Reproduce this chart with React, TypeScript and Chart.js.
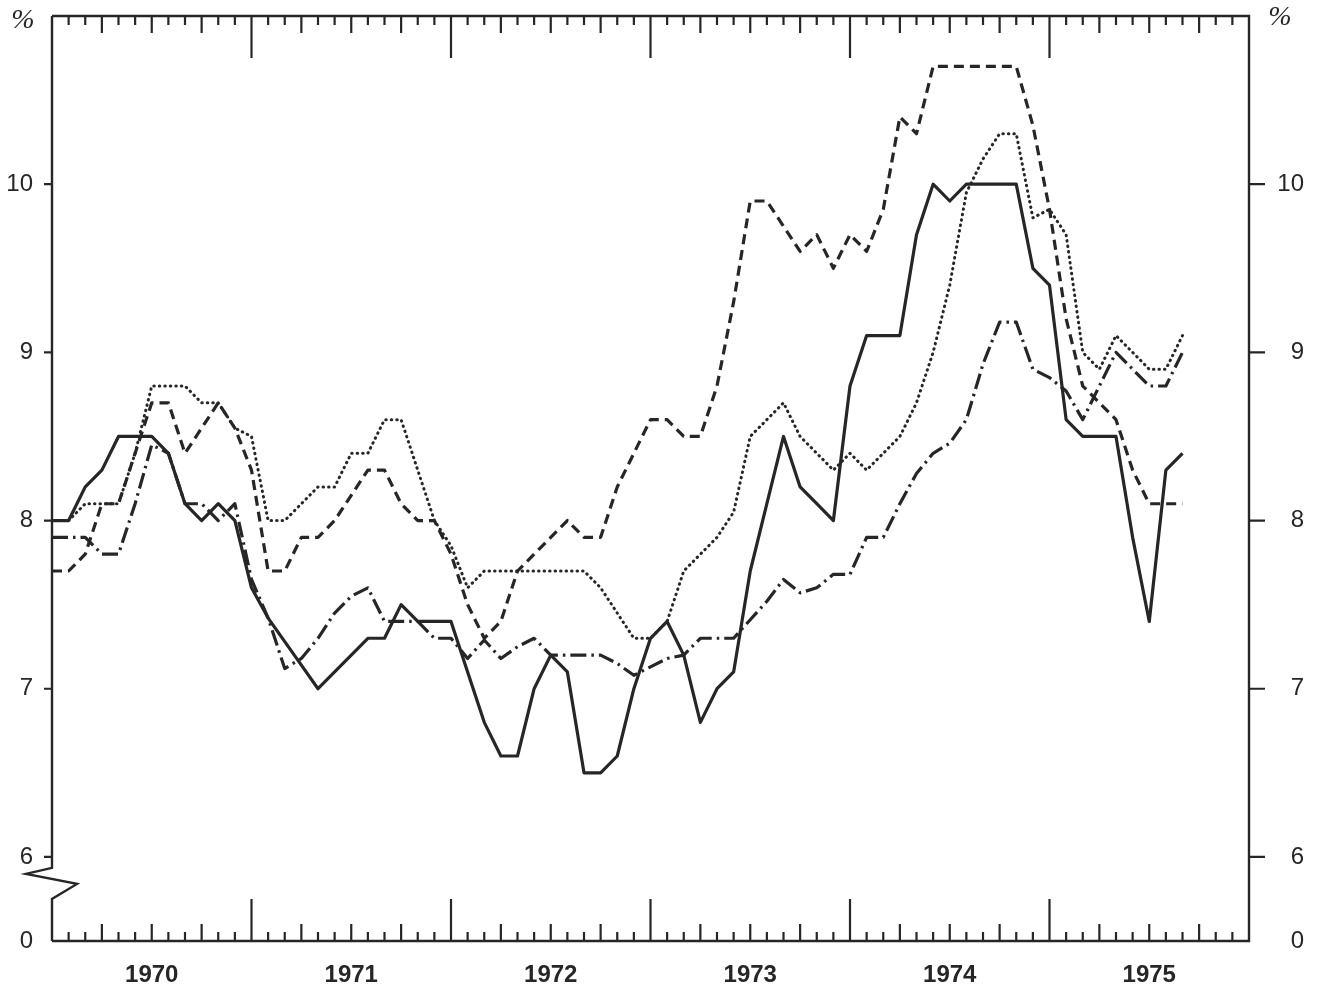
import React, { useEffect, useRef } from "react";
import { Chart, registerables } from "chart.js";

Chart.register(...registerables);

// Month index 0 = January 1970, one value per month (Jan 1970 – Sep 1975)
const solidSeries = [
  8.0, 8.0, 8.2, 8.3, 8.5, 8.5, 8.5, 8.4, 8.1, 8.0, 8.1, 8.0,
  7.6, 7.42, 7.28, 7.14, 7.0, 7.1, 7.2, 7.3, 7.3, 7.5, 7.4, 7.4,
  7.4, 7.1, 6.8, 6.6, 6.6, 7.0, 7.2, 7.1, 6.5, 6.5, 6.6, 7.0,
  7.3, 7.4, 7.2, 6.8, 7.0, 7.1, 7.7, 8.1, 8.5, 8.2, 8.1, 8.0,
  8.8, 9.1, 9.1, 9.1, 9.7, 10.0, 9.9, 10.0, 10.0, 10.0, 10.0, 9.5,
  9.4, 8.6, 8.5, 8.5, 8.5, 7.9, 7.4, 8.3, 8.4,
];

const dashedSeries = [
  7.7, 7.7, 7.8, 8.1, 8.1, 8.4, 8.7, 8.7, 8.4, 8.55, 8.7, 8.55,
  8.3, 7.7, 7.7, 7.9, 7.9, 8.0, 8.15, 8.3, 8.3, 8.1, 8.0, 8.0,
  7.8, 7.5, 7.3, 7.4, 7.7, 7.8, 7.9, 8.0, 7.9, 7.9, 8.2, 8.4,
  8.6, 8.6, 8.5, 8.5, 8.8, 9.3, 9.9, 9.9, 9.75, 9.6, 9.7, 9.5,
  9.7, 9.6, 9.85, 10.4, 10.3, 10.7, 10.7, 10.7, 10.7, 10.7, 10.7, 10.35,
  9.85, 9.2, 8.8, 8.7, 8.6, 8.3, 8.1, 8.1, 8.1,
];

const dottedSeries = [
  8.0, 8.0, 8.1, 8.1, 8.1, 8.4, 8.8, 8.8, 8.8, 8.7, 8.7, 8.55,
  8.5, 8.0, 8.0, 8.1, 8.2, 8.2, 8.4, 8.4, 8.6, 8.6, 8.3, 8.0,
  7.85, 7.6, 7.7, 7.7, 7.7, 7.7, 7.7, 7.7, 7.7, 7.6, 7.45, 7.3,
  7.3, 7.4, 7.7, 7.8, 7.9, 8.05, 8.5, 8.6, 8.7, 8.5, 8.4, 8.3,
  8.4, 8.3, 8.4, 8.5, 8.7, 9.0, 9.4, 9.95, 10.15, 10.3, 10.3, 9.8,
  9.85, 9.7, 9.0, 8.9, 9.1, 9.0, 8.9, 8.9, 9.1,
];

const dashDotSeries = [
  7.9, 7.9, 7.9, 7.8, 7.8, 8.1, 8.45, 8.4, 8.1, 8.1, 8.0, 8.1,
  7.65, 7.42, 7.12, 7.18, 7.3, 7.45, 7.55, 7.6, 7.4, 7.4, 7.4, 7.3,
  7.3, 7.18, 7.29, 7.18, 7.25, 7.3, 7.2, 7.2, 7.2, 7.2, 7.15, 7.08,
  7.13, 7.18, 7.2, 7.3, 7.3, 7.3, 7.41, 7.52, 7.65, 7.57, 7.6, 7.68,
  7.68, 7.9, 7.9, 8.1, 8.28, 8.4, 8.46, 8.6, 8.93, 9.18, 9.18, 8.9,
  8.85, 8.77, 8.6, 8.8, 9.0, 8.9, 8.8, 8.8, 9.0,
];

const yearLabels = ["1970", "1971", "1972", "1973", "1974", "1975"];
const yTickValues = [5.5, 6, 7, 8, 9, 10];
const yTickLabels = ["0", "6", "7", "8", "9", "10"];
const yMarkedValues = [6, 7, 8, 9, 10];
const MONTHS_TOTAL = 72;

const INK = "#262626";
const SANS = '"Liberation Sans", Arial, Helvetica, sans-serif';

const toPoints = (arr: number[]) => arr.map((v, i) => ({ x: i, y: v }));

const framePlugin = {
  id: "frame",
  afterDraw(chart: any) {
    const { ctx, chartArea, scales } = chart;
    const { left, right, top, bottom } = chartArea;
    const xs = scales.x;
    const ys = scales.y;
    ctx.save();
    ctx.strokeStyle = INK;
    ctx.lineCap = "butt";
    ctx.lineJoin = "miter";

    // frame lines
    ctx.lineWidth = 2.4;
    ctx.beginPath();
    ctx.moveTo(left, top);
    ctx.lineTo(right, top);
    ctx.lineTo(right, bottom);
    ctx.lineTo(left, bottom);
    const y6 = ys.getPixelForValue(6);
    ctx.moveTo(left, top);
    ctx.lineTo(left, y6 + 11);
    ctx.lineTo(left - 26, y6 + 17);
    ctx.lineTo(left + 25, y6 + 27);
    ctx.lineTo(left, y6 + 42);
    ctx.lineTo(left, bottom);
    ctx.stroke();

    // month ticks (top pointing down, bottom pointing up)
    ctx.lineWidth = 2.2;
    ctx.beginPath();
    for (let m = 1; m < MONTHS_TOTAL; m++) {
      const px = xs.getPixelForValue(m);
      const len = m % 12 === 0 ? 42 : m % 3 === 0 ? 17 : 9;
      ctx.moveTo(px, top);
      ctx.lineTo(px, top + len);
      ctx.moveTo(px, bottom);
      ctx.lineTo(px, bottom - len);
    }
    // value ticks
    yMarkedValues.forEach((v) => {
      const py = ys.getPixelForValue(v);
      ctx.moveTo(left - 8, py);
      ctx.lineTo(left, py);
      ctx.moveTo(right, py);
      ctx.lineTo(right + 16, py);
    });
    ctx.stroke();

    // percent signs
    ctx.fillStyle = INK;
    ctx.font = 'italic 28px "Liberation Serif", "DejaVu Serif", serif';
    ctx.textAlign = "center";
    ctx.textBaseline = "middle";
    ctx.fillText("%", 23, 21);
    ctx.fillText("%", right + 31, 18);
    ctx.restore();
  },
};

export default function App() {
  const canvasRef = useRef<HTMLCanvasElement | null>(null);

  useEffect(() => {
    const canvas = canvasRef.current;
    if (!canvas) return;

    const lineBase = {
      borderColor: INK,
      backgroundColor: INK,
      pointRadius: 0,
      tension: 0,
      fill: false,
      borderJoinStyle: "round" as const,
    };

    const yLabel = (v: any) => {
      const i = yTickValues.indexOf(Number(v));
      return i >= 0 ? yTickLabels[i] : "";
    };

    const chart = new Chart(canvas, {
      type: "line",
      data: {
        datasets: [
          {
            ...lineBase,
            label: "solid",
            data: toPoints(solidSeries),
            borderWidth: 3.2,
          },
          {
            ...lineBase,
            label: "dashed",
            data: toPoints(dashedSeries),
            borderWidth: 3.2,
            borderDash: [10, 6],
          },
          {
            ...lineBase,
            label: "dotted",
            data: toPoints(dottedSeries),
            borderWidth: 3,
            borderDash: [0.5, 5],
            borderCapStyle: "round",
          },
          {
            ...lineBase,
            label: "dash-dot",
            data: toPoints(dashDotSeries),
            borderWidth: 3.2,
            borderDash: [16, 5, 2.5, 5],
          },
        ],
      },
      options: {
        responsive: false,
        animation: false,
        events: [],
        layout: { padding: { top: 16, right: 17, bottom: 0, left: 0 } },
        plugins: {
          legend: { display: false },
          tooltip: { enabled: false },
          title: { display: false },
        },
        scales: {
          x: {
            type: "linear",
            min: 0,
            max: MONTHS_TOTAL,
            grid: { display: false, drawTicks: false },
            border: { display: false },
            afterBuildTicks: (s: any) => {
              s.ticks = yearLabels.map((_, k) => ({ value: 12 * k + 6 }));
            },
            afterFit: (s: any) => {
              s.height = 49;
              s.paddingLeft = 0;
              s.paddingRight = 0;
            },
            ticks: {
              autoSkip: false,
              maxRotation: 0,
              padding: 20,
              color: INK,
              font: { family: SANS, size: 24, weight: "bold" },
              callback: (v: any) => yearLabels[Math.round((Number(v) - 6) / 12)] ?? "",
            },
          },
          y: {
            type: "linear",
            position: "left",
            min: 5.5,
            max: 11,
            grid: { display: false, drawTicks: false },
            border: { display: false },
            afterBuildTicks: (s: any) => {
              s.ticks = yTickValues.map((v) => ({ value: v }));
            },
            afterFit: (s: any) => {
              s.width = 52;
              s.paddingTop = 0;
              s.paddingBottom = 0;
            },
            ticks: {
              padding: 19,
              color: INK,
              font: { family: SANS, size: 24 },
              callback: yLabel,
            },
          },
          y2: {
            type: "linear",
            position: "right",
            min: 5.5,
            max: 11,
            grid: { display: false, drawTicks: false },
            border: { display: false },
            afterBuildTicks: (s: any) => {
              s.ticks = yTickValues.map((v) => ({ value: v }));
            },
            afterFit: (s: any) => {
              s.width = 55;
              s.paddingTop = 0;
              s.paddingBottom = 0;
            },
            ticks: {
              padding: 28,
              crossAlign: "far",
              color: INK,
              font: { family: SANS, size: 24 },
              callback: yLabel,
            },
          },
        },
      },
      plugins: [framePlugin],
    });

    return () => chart.destroy();
  }, []);

  return (
    <div style={{ position: "fixed", left: 0, top: 0, width: 1321, height: 990, background: "#fff" }}>
      <canvas ref={canvasRef} width={1321} height={990} style={{ display: "block" }} />
    </div>
  );
}
